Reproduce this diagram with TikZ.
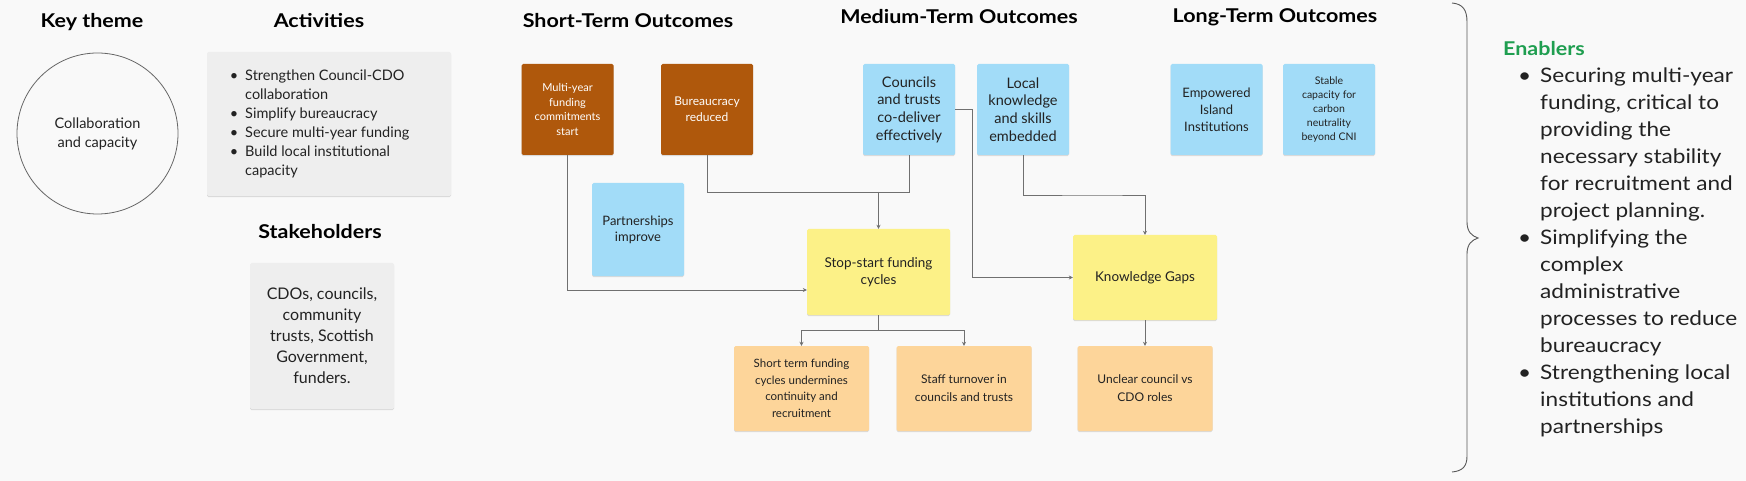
\documentclass[tikz,border=0pt]{standalone}
\usepackage{fontspec}
\setmainfont{Lato}
\newfontfamily\widefont{Lato}[FakeStretch=1.13]
\usetikzlibrary{arrows.meta,shadows}
\definecolor{bg}{HTML}{F9F9F9}
\definecolor{cbrown}{HTML}{AF580C}
\definecolor{cblue}{HTML}{A2DCF8}
\definecolor{cyellow}{HTML}{FCF187}
\definecolor{corange}{HTML}{FDD59A}
\definecolor{cgray}{HTML}{EEEEEE}
\definecolor{cgreen}{HTML}{1F9E50}
\definecolor{ctext}{HTML}{222222}
\definecolor{cline}{HTML}{707070}
\begin{document}
\begin{tikzpicture}[x=1pt,y=-1pt,
  card/.style={rectangle, rounded corners=1.5pt, inner sep=0pt, align=center, text=ctext,
    drop shadow={shadow xshift=0pt, shadow yshift=-1.2pt, opacity=0.12, fill=black}},
  sq/.style={card, minimum width=92pt, minimum height=91pt},
  wide/.style={card, minimum width=135pt, minimum height=85pt},
  ttl/.style={font=\widefont\bfseries\fontsize{19}{22}\selectfont, text=black, anchor=base, inner sep=0pt},
  conn/.style={draw=cline, line width=0.9pt},
  arr/.style={conn, -{Stealth[length=4pt,width=4pt]}},
]
\fill[bg] (0,0) rectangle (1746,481);
\useasboundingbox (0,0) rectangle (1746,481);

% titles
\node[ttl] (tkey) at (92,28) {Key theme};
\node[ttl] (tact) at (319,28) {Activities};
\node[ttl] (tstake) at (320,239) {Stakeholders};
\node[ttl] (tshort) at (628,28) {Short-Term Outcomes};
\node[ttl] (tmed) at (959,24) {Medium-Term Outcomes};
\node[ttl] (tlong) at (1275,23) {Long-Term Outcomes};

% key theme
\node[circle, draw=black!60, line width=0.8pt, minimum size=161pt, inner sep=0pt,
      align=center, text=ctext, font=\fontsize{14.5}{19}\selectfont] (theme) at (97.5,133.5)
      {Collaboration\\and capacity};

% activities
\node[card, fill=cgray, minimum width=244pt, minimum height=144pt] (act) at (329,124) {};
\node[anchor=base west, inner sep=0pt, text=ctext, font=\fontsize{14.5}{19}\selectfont] (actlist) at (245,81)
  {\begin{tabular}[t]{@{}l@{}}
   \llap{\textbullet\hspace{7pt}}Strengthen Council-CDO\\
   collaboration\\
   \llap{\textbullet\hspace{7pt}}Simplify bureaucracy\\
   \llap{\textbullet\hspace{7pt}}Secure multi-year funding\\
   \llap{\textbullet\hspace{7pt}}Build local institutional\\
   capacity
   \end{tabular}};

% stakeholders
\node[card, fill=cgray, minimum width=144pt, minimum height=146pt, font=\fontsize{16}{21}\selectfont] (stake) at (322,336)
  {CDOs, councils,\\community\\trusts, Scottish\\Government,\\funders.};

% short-term
\node[sq, fill=cbrown, text=white, font=\fontsize{11}{14.5}\selectfont] (mult) at (567.5,109.5) {Multi-year\\funding\\commitments\\start};
\node[sq, fill=cbrown, text=white, font=\fontsize{12}{16}\selectfont] (bur) at (707,109.5) {Bureaucracy\\reduced};
\node[sq, fill=cblue, minimum height=93pt, font=\fontsize{13}{16}\selectfont] (part) at (638,229.5) {Partnerships\\improve};

% medium-term
\node[sq, fill=cblue, font=\fontsize{14.5}{17.7}\selectfont] (coun) at (909,109.5) {Councils\\and trusts\\co-deliver\\effectively};
\node[sq, fill=cblue, font=\fontsize{14.5}{17.7}\selectfont] (loc) at (1023,109.5) {Local\\knowledge\\and skills\\embedded};

% long-term
\node[sq, fill=cblue, font=\fontsize{13}{16.8}\selectfont] (emp) at (1216.5,109.5) {Empowered\\Island\\Institutions};
\node[sq, fill=cblue, font=\fontsize{10.5}{14}\selectfont] (stab) at (1329,109.5) {Stable\\capacity for\\carbon\\neutrality\\beyond CNI};

% problems
\node[card, fill=cyellow, minimum width=143pt, minimum height=86pt, font=\fontsize{13.5}{17}\selectfont] (stop) at (878.5,272) {Stop-start funding\\cycles};
\node[card, fill=cyellow, minimum width=144pt, minimum height=85pt, font=\fontsize{13.5}{17}\selectfont] (kg) at (1145,277.5) {Knowledge Gaps};
\node[wide, fill=corange, font=\fontsize{11.5}{16.5}\selectfont] (stc) at (801.5,388.5) {Short term funding\\cycles undermines\\continuity and\\recruitment};
\node[wide, fill=corange, font=\fontsize{12}{18}\selectfont] (staff) at (964,388.5) {Staff turnover in\\councils and trusts};
\node[wide, fill=corange, font=\fontsize{12}{18}\selectfont] (unc) at (1145,388.5) {Unclear council vs\\CDO roles};

% helper coordinates
\coordinate (j1) at (0,290);
\coordinate (j2) at (0,192);
\coordinate (j3) at (972,200);
\coordinate (j4) at (1100,195);
\coordinate (j5) at (0,330);

% connectors
\draw[arr] (mult.south) |- (stop.west |- j1);
\draw[conn] (bur.south) |- (coun.south |- j2) -- (coun.south);
\draw[arr] (stop.north |- j2) -- (stop.north);
\draw[arr] (coun.east) -| (j3) |- (kg.west);
\draw[arr] (loc.south) |- (j4) -| (kg.north);
\draw[conn] (stop.south) -- (stop.south |- j5);
\draw[arr] (stop.south |- j5) -| (stc.north);
\draw[arr] (stop.south |- j5) -| (staff.north);
\draw[arr] (kg.south) -- (unc.north);

% brace
\draw[draw=black!65, line width=0.9pt]
  (1452,3) .. controls (1463,4) and (1467,10) .. (1467,22) -- (1467,222)
  .. controls (1467,232) and (1472,236) .. (1478,238)
  .. controls (1472,240) and (1467,244) .. (1467,254) -- (1467,456)
  .. controls (1467,466) and (1463,471) .. (1452,472);

% enablers
\node[anchor=base west, inner sep=0pt, text=cgreen, font=\widefont\bfseries\fontsize{19}{22}\selectfont] (ten) at (1503,56) {Enablers};
\node[anchor=base west, inner sep=0pt, text=ctext, font=\widefont\fontsize{20}{27}\selectfont] (enlist) at (1540,83)
  {\begin{tabular}[t]{@{}l@{}}
   \llap{\textbullet\hspace{9pt}}Securing multi-year\\
   funding, critical to\\
   providing the\\
   necessary stability\\
   for recruitment and\\
   project planning.\\
   \llap{\textbullet\hspace{9pt}}Simplifying the\\
   complex\\
   administrative\\
   processes to reduce\\
   bureaucracy\\
   \llap{\textbullet\hspace{9pt}}Strengthening local\\
   institutions and\\
   partnerships
   \end{tabular}};
\end{tikzpicture}
\end{document}
